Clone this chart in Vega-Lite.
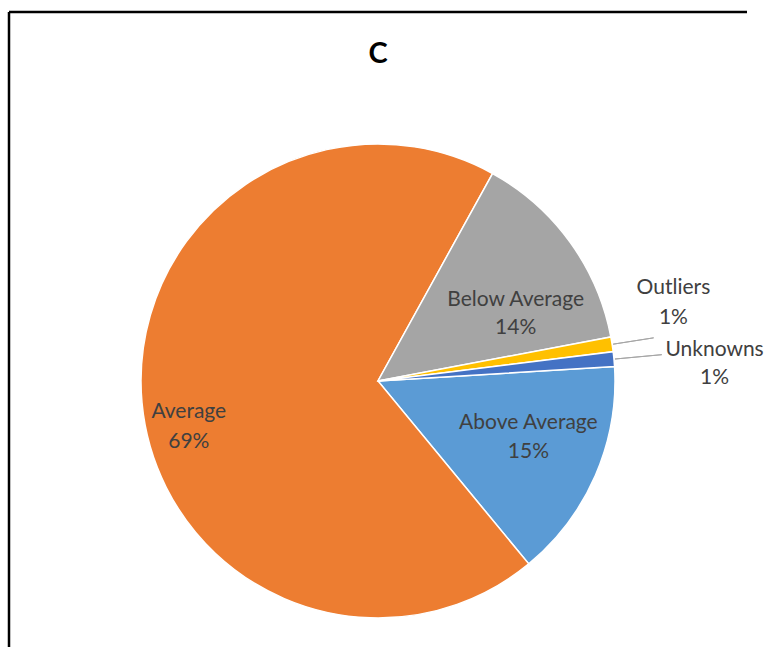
{
  "$schema": "https://vega.github.io/schema/vega-lite/v6.json",
  "width": 738,
  "height": 738,
  "autosize": "none",
  "padding": {"left": 9, "top": 12, "right": 30, "bottom": 0},
  "background": "#ffffff",
  "view": {"stroke": "#000000", "strokeWidth": 2.5, "strokeDash": [738, 738, 1476, 0]},
  "config": {
    "view": {"stroke": "#000000", "strokeWidth": 2.5, "strokeDash": [738, 738, 1476, 0]},
    "text": {"font": "Lato", "fontSize": 21, "letterSpacing": 0.6, "color": "#404040", "align": "center", "baseline": "middle"}
  },
  "title": {
    "text": "C",
    "font": "Lato",
    "fontSize": 29,
    "fontWeight": "bold",
    "color": "#000000",
    "anchor": "middle",
    "frame": "group",
    "baseline": "alphabetic",
    "offset": -80
  },
  "data": {
    "values": [
      {"category": "Above Average", "share": 0.15, "ord": 1},
      {"category": "Average", "share": 0.69, "ord": 2},
      {"category": "Below Average", "share": 0.14, "ord": 3},
      {"category": "Outliers", "share": 0.01, "ord": 4},
      {"category": "Unknowns", "share": 0.01, "ord": 5}
    ]
  },
  "encoding": {
    "theta": {"field": "share", "type": "quantitative", "stack": true, "scale": {"range": [1.5097, 7.7929]}},
    "order": {"field": "ord", "type": "quantitative"}
  },
  "layer": [
    {
      "mark": {"type": "arc", "radius": 237, "stroke": "#ffffff", "strokeWidth": 1.5},
      "encoding": {
        "color": {
          "field": "category",
          "type": "nominal",
          "scale": {
            "domain": ["Above Average", "Average", "Below Average", "Outliers", "Unknowns"],
            "range": ["#5B9BD5", "#ED7D31", "#A5A5A5", "#FFC000", "#4472C4"]
          },
          "legend": null
        }
      }
    },
    {
      "mark": {"type": "arc", "filled": false, "radius": 279, "radius2": 238, "padAngle": 0.2, "stroke": "#A6A6A6", "strokeWidth": 1},
      "encoding": {"strokeOpacity": {"condition": {"test": "datum.category === 'Outliers'", "value": 1}, "value": 0}}
    },
    {
      "mark": {"type": "arc", "filled": false, "radius": 285, "radius2": 238, "padAngle": 0.2, "stroke": "#A6A6A6", "strokeWidth": 1},
      "encoding": {"strokeOpacity": {"condition": {"test": "datum.category === 'Unknowns'", "value": 1}, "value": 0}}
    },
    {
      "mark": {"type": "text", "radius": 190, "dy": 13},
      "encoding": {"text": {"condition": {"test": "datum.category === 'Average'", "field": "category", "type": "nominal"}, "value": ""}}
    },
    {
      "mark": {"type": "text", "radius": 190, "dy": 43},
      "encoding": {"text": {"condition": {"test": "datum.category === 'Average'", "field": "share", "type": "quantitative", "format": ".0%"}, "value": ""}}
    },
    {
      "mark": {"type": "text", "radius": 170, "dy": 19},
      "encoding": {"text": {"condition": {"test": "datum.category === 'Below Average'", "field": "category", "type": "nominal"}, "value": ""}}
    },
    {
      "mark": {"type": "text", "radius": 170, "dy": 47},
      "encoding": {"text": {"condition": {"test": "datum.category === 'Below Average'", "field": "share", "type": "quantitative", "format": ".0%"}, "value": ""}}
    },
    {
      "mark": {"type": "text", "radius": 164, "dy": -23},
      "encoding": {"text": {"condition": {"test": "datum.category === 'Above Average'", "field": "category", "type": "nominal"}, "value": ""}}
    },
    {
      "mark": {"type": "text", "radius": 164, "dy": 6},
      "encoding": {"text": {"condition": {"test": "datum.category === 'Above Average'", "field": "share", "type": "quantitative", "format": ".0%"}, "value": ""}}
    },
    {
      "mark": {"type": "text", "radius": 299, "dy": -47},
      "encoding": {"text": {"condition": {"test": "datum.category === 'Outliers'", "field": "category", "type": "nominal"}, "value": ""}}
    },
    {
      "mark": {"type": "text", "radius": 299, "dy": -17},
      "encoding": {"text": {"condition": {"test": "datum.category === 'Outliers'", "field": "share", "type": "quantitative", "format": ".0%"}, "value": ""}}
    },
    {
      "mark": {"type": "text", "radius": 338, "dy": 0},
      "encoding": {"text": {"condition": {"test": "datum.category === 'Unknowns'", "field": "category", "type": "nominal"}, "value": ""}}
    },
    {
      "mark": {"type": "text", "radius": 338, "dy": 28},
      "encoding": {"text": {"condition": {"test": "datum.category === 'Unknowns'", "field": "share", "type": "quantitative", "format": ".0%"}, "value": ""}}
    }
  ]
}
